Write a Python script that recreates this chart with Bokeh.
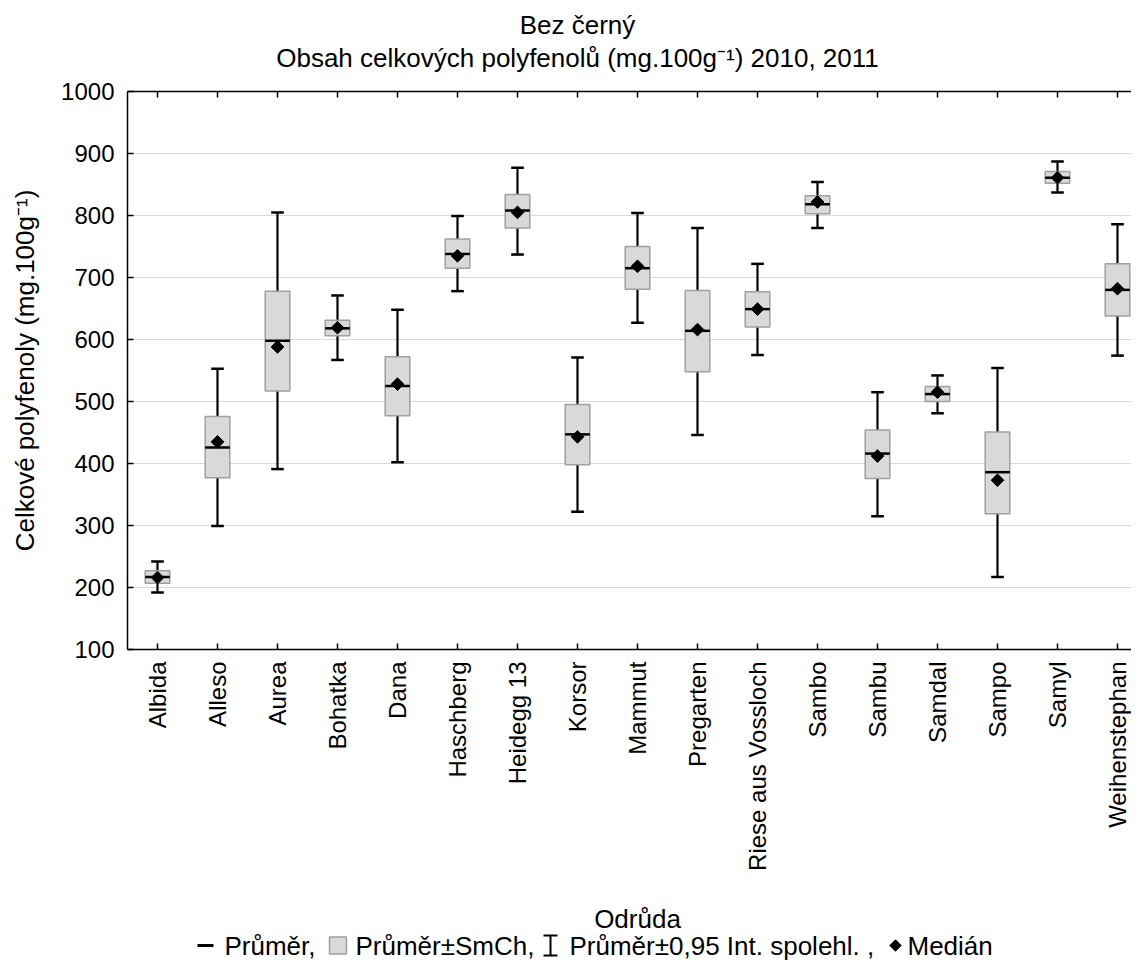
import math
from bokeh.plotting import figure
from bokeh.models import Range1d, FixedTicker, LinearAxis, ColumnDataSource
from bokeh.layouts import column
from bokeh.embed import file_html
from bokeh.resources import INLINE
from bokeh.core.properties import value

# ---------------- data ----------------
categories = ["Albida", "Alleso", "Aurea", "Bohatka", "Dana", "Haschberg", "Heidegg 13",
              "Korsor", "Mammut", "Pregarten", "Riese aus Vossloch", "Sambo", "Sambu",
              "Samdal", "Sampo", "Samyl", "Weihenstephan"]
mean   = [217, 426, 598, 618, 525, 738, 808, 447, 715, 614, 649, 818, 416, 512, 386, 861, 680]
se_lo  = [207, 377, 517, 606, 477, 715, 780, 398, 681, 548, 620, 803, 376, 500, 319, 852, 638]
se_hi  = [227, 476, 678, 631, 572, 762, 834, 495, 750, 679, 677, 832, 454, 524, 451, 871, 722]
ci_lo  = [192, 299, 391, 567, 402, 678, 737, 322, 627, 446, 575, 780, 315, 481, 217, 837, 574]
ci_hi  = [242, 553, 805, 671, 648, 799, 877, 571, 804, 780, 722, 854, 515, 542, 554, 887, 786]
median = [216, 435, 588, 619, 528, 735, 805, 443, 718, 616, 649, 822, 412, 515, 373, 861, 682]
y_ticks = [100, 200, 300, 400, 500, 600, 700, 800, 900, 1000]

title_lines = ["Bez černý", "Obsah celkových polyfenolů (mg.100g⁻¹) 2010, 2011"]
y_label = "Celkové polyfenoly (mg.100g⁻¹)"
x_label = "Odrůda"
legend_labels = ["Průměr,", "Průměr±SmCh,", "Průměr±0,95 Int. spolehl. ,", "Medián"]

FONT = "Liberation Sans"
BOX_W = 0.41
CAP_W = 0.21

W = 1131            # total width of every row
LEFT = 127          # left border (frame starts here)
H0 = 76             # header row height
H1 = 814            # plot row height
H2 = 960 - H0 - H1  # bottom row height
FRAME_TOP = 91 - H0
FRAME_BOTTOM = 649 - H0

xs = list(range(len(categories)))
src = ColumnDataSource(dict(
    x=xs, mean=mean, se_lo=se_lo, se_hi=se_hi, ci_lo=ci_lo, ci_hi=ci_hi, median=median,
    cap_l=[x - CAP_W / 2 for x in xs], cap_r=[x + CAP_W / 2 for x in xs],
    box_l=[x - BOX_W / 2 for x in xs], box_r=[x + BOX_W / 2 for x in xs],
))

# ---------------- header row (titles) ----------------
hdr = figure(width=W, height=H0, output_backend="svg", toolbar_location=None,
             x_range=Range1d(LEFT, W), y_range=Range1d(H0, 0),
             min_border_left=LEFT, min_border_right=0, min_border_top=0, min_border_bottom=0,
             x_axis_location=None, y_axis_location=None)
hdr.grid.visible = False
hdr.outline_line_color = None
hdr.text(x=[577, 577], y=[24, 57], text=title_lines, text_font=value(FONT),
         text_font_size="26px", text_align="center", text_baseline="middle",
         text_color="black")

# ---------------- main plot ----------------
p = figure(width=W, height=H1, output_backend="svg", toolbar_location=None,
           x_range=Range1d(-0.5, -0.5 + (W - LEFT) / 60.0), y_range=Range1d(100, 1000),
           min_border_left=LEFT, min_border_right=0, min_border_top=FRAME_TOP,
           min_border_bottom=H1 - FRAME_BOTTOM)
p.outline_line_color = None

p.xgrid.visible = False
p.ygrid.ticker = FixedTicker(ticks=y_ticks)
p.ygrid.grid_line_color = "#d9d9d9"
p.ygrid.grid_line_width = 1

xa = p.xaxis[0]
xa.ticker = FixedTicker(ticks=xs)
xa.major_label_overrides = {i: c for i, c in enumerate(categories)}
xa.major_label_orientation = math.pi / 2
xa.major_label_text_font = FONT
xa.major_label_text_font_size = "24px"
xa.major_label_text_color = "black"
xa.major_label_standoff = 12
xa.major_tick_in = 6
xa.major_tick_out = 0
xa.minor_tick_line_color = None
xa.axis_line_color = "black"
xa.axis_line_width = 1.5
xa.major_tick_line_color = "black"
xa.major_tick_line_width = 1.5

ya = p.yaxis[0]
ya.ticker = FixedTicker(ticks=y_ticks)
ya.major_label_text_font = FONT
ya.major_label_text_font_size = "24px"
ya.major_label_text_color = "black"
ya.major_label_standoff = 13
ya.major_tick_in = 6
ya.major_tick_out = 0
ya.minor_tick_line_color = None
ya.axis_line_color = "black"
ya.axis_line_width = 1.5
ya.major_tick_line_color = "black"
ya.major_tick_line_width = 1.5
ya.axis_label = y_label
ya.axis_label_text_font = FONT
ya.axis_label_text_font_size = "26px"
ya.axis_label_text_font_style = "normal"
ya.axis_label_text_color = "black"
ya.axis_label_standoff = 18

top = LinearAxis(ticker=FixedTicker(ticks=xs), major_label_text_font_size="1px",
                 major_label_text_color=None, major_label_standoff=0,
                 major_tick_in=6, major_tick_out=0,
                 minor_tick_line_color=None, axis_line_color="black", axis_line_width=1.5,
                 major_tick_line_color="black", major_tick_line_width=1.5)
p.add_layout(top, "above")

p.segment(x0="x", y0="ci_lo", x1="x", y1="ci_hi", source=src, line_color="black", line_width=2.2)
p.segment(x0="cap_l", y0="ci_hi", x1="cap_r", y1="ci_hi", source=src, line_color="black", line_width=2.5)
p.segment(x0="cap_l", y0="ci_lo", x1="cap_r", y1="ci_lo", source=src, line_color="black", line_width=2.5)
p.quad(left="box_l", right="box_r", bottom="se_lo", top="se_hi", source=src,
       fill_color="#d9d9d9", line_color="#a0a0a0", line_width=1.5)
p.segment(x0="box_l", y0="mean", x1="box_r", y1="mean", source=src, line_color="black", line_width=2.5)
p.scatter(x="x", y="median", source=src, marker="square", angle=math.pi / 4, size=9,
          fill_color="black", line_color="black")

# ---------------- bottom row (axis title + legend) ----------------
L = figure(width=W, height=H2, output_backend="svg", toolbar_location=None,
           x_range=Range1d(LEFT, W), y_range=Range1d(H2, 0),
           min_border_left=LEFT, min_border_right=0, min_border_top=0, min_border_bottom=0,
           x_axis_location=None, y_axis_location=None)
L.grid.visible = False
L.outline_line_color = None

L.text(x=[637], y=[28], text=[x_label], text_font=value(FONT), text_font_size="26px",
       text_align="center", text_baseline="middle", text_color="black")

cy = 55
L.segment(x0=[197], y0=[cy], x1=[213], y1=[cy], line_color="black", line_width=3)
L.quad(left=[329], right=[346], top=[cy - 8.5], bottom=[cy + 8.5], fill_color="#d9d9d9",
       line_color="#a0a0a0", line_width=1.5)
L.segment(x0=[550, 543, 543], y0=[cy - 10, cy - 10, cy + 10], x1=[550, 557, 557],
          y1=[cy + 10, cy - 10, cy + 10], line_color="black", line_width=2)
L.scatter(x=[895], y=[cy], marker="square", angle=math.pi / 4, size=8,
          fill_color="black", line_color="black")
L.text(x=[224, 355, 569, 907], y=[cy] * 4, text=legend_labels, text_font=value(FONT),
       text_font_size="26px", text_baseline="middle", text_align="left", text_color="black")

layout = column(hdr, p, L, spacing=0)
open("out.html", "w").write(file_html(layout, INLINE))
